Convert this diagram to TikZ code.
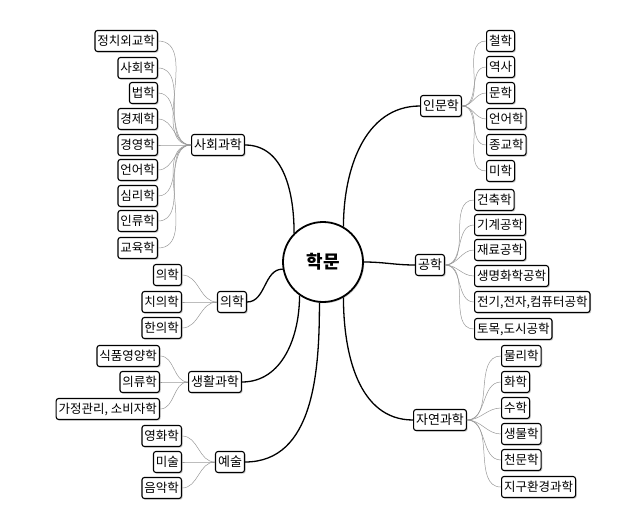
\documentclass[tikz,border=0pt]{standalone}
\usepackage{fontspec}
\newfontfamily\kr{Noto Sans CJK KR}
\usetikzlibrary{shadows}
\begin{document}
\begin{tikzpicture}[x=1pt,y=-1pt,
  box/.style={draw,line width=1.1pt,rounded corners=2.5pt,fill=white,font=\kr\fontsize{12.5}{14}\selectfont,inner sep=2.5pt,minimum height=21pt,drop shadow={shadow xshift=1.2pt,shadow yshift=-1.2pt,opacity=.4}},
  br/.style={box,font=\kr\fontsize{13}{14}\selectfont},
  main/.style={line width=1.3pt,black},
  leaf/.style={gray!80,line width=0.5pt}]
\useasboundingbox (0,0) rectangle (643,527);
\node[draw,circle,line width=1.8pt,minimum size=80pt,fill=white,font=\kr\bfseries\fontsize{18}{20}\selectfont,drop shadow={shadow xshift=1.2pt,shadow yshift=-1.2pt,opacity=.4}] (c) at (323,262) {학문};
\node[br] (s) at (218,145) {사회과학};
\node[br] (m) at (232,302) {의학};
\node[br] (l) at (215,382) {생활과학};
\node[br] (a) at (230,462) {예술};
\node[br] (h) at (441,106) {인문학};
\node[br] (e) at (430,265) {공학};
\node[br] (n) at (440,420) {자연과학};
\foreach \b/\ang/\o/\i in {s/135/90/0, m/190/180/0, l/235/270/0, a/265/270/0}{
  \draw[main] (c.\ang) to[out=\o,in=\i] (\b.east);}
\foreach \b/\ang/\o/\i in {h/60/90/180, e/0/0/180, n/300/270/180}{
  \draw[main] (c.\ang) to[out=\o,in=\i] (\b.west);}
\foreach \t/\y [count=\k] in {정치외교학/41,사회학/68,법학/93,경제학/119,경영학/145,언어학/170,심리학/196,인류학/221,교육학/248}{
  \node[box,anchor=east] (s\k) at (158,\y) {\t};
  \draw[leaf] (s.west) to[out=180,in=0] (s\k.east);}
\foreach \t/\y [count=\k] in {의학/275,치의학/302,한의학/328}{
  \node[box,anchor=east] (m\k) at (182,\y) {\t};
  \draw[leaf] (m.west) to[out=180,in=0] (m\k.east);}
\foreach \t/\y [count=\k] in {식품영양학/356,의류학/382,{가정관리, 소비자학}/409}{
  \node[box,anchor=east] (l\k) at (160,\y) {\t};
  \draw[leaf] (l.west) to[out=180,in=0] (l\k.east);}
\foreach \t/\y [count=\k] in {영화학/436,미술/462,음악학/488}{
  \node[box,anchor=east] (a\k) at (182,\y) {\t};
  \draw[leaf] (a.west) to[out=180,in=0] (a\k.east);}
\foreach \t/\y [count=\k] in {철학/41,역사/67,문학/93,언어학/119,종교학/145,미학/171}{
  \node[box,anchor=west] (h\k) at (486,\y) {\t};
  \draw[leaf] (h.east) to[out=0,in=180] (h\k.west);}
\foreach \t/\y [count=\k] in {건축학/200,기계공학/225,재료공학/250,생명화학공학/276,{전기,전자,컴퓨터공학}/302,{토목,도시공학}/329}{
  \node[box,anchor=west] (e\k) at (474,\y) {\t};
  \draw[leaf] (e.east) to[out=0,in=180] (e\k.west);}
\foreach \t/\y [count=\k] in {물리학/356,화학/382,수학/408,생물학/434,천문학/460,지구환경과학/487}{
  \node[box,anchor=west] (n\k) at (501,\y) {\t};
  \draw[leaf] (n.east) to[out=0,in=180] (n\k.west);}
\end{tikzpicture}
\end{document}
